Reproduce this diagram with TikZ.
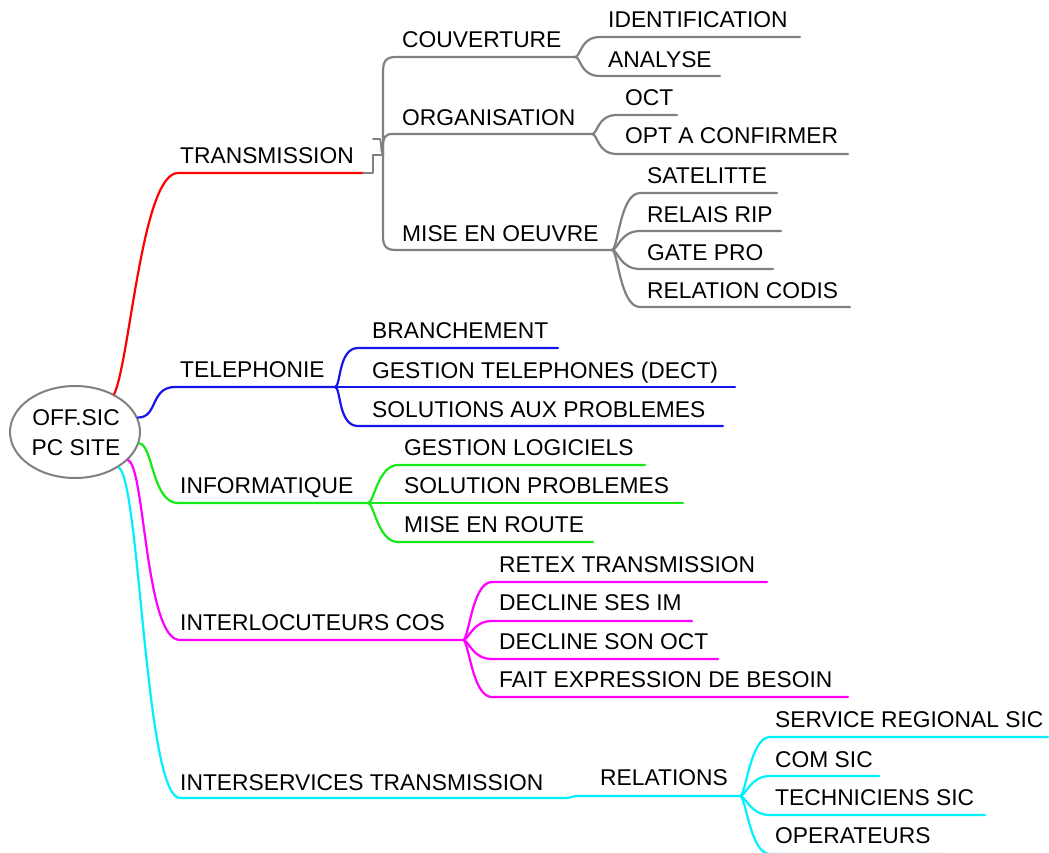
\documentclass[tikz,border=0pt]{standalone}
\usepackage{fontspec}
\setmainfont{Liberation Sans}
\usetikzlibrary{shapes.geometric}

\definecolor{mmred}{RGB}{255,0,0}
\definecolor{mmblue}{RGB}{20,20,235}
\definecolor{mmgreen}{RGB}{20,235,20}
\definecolor{mmmag}{RGB}{255,0,255}
\definecolor{mmcyan}{RGB}{0,240,255}
\definecolor{mmgrey}{RGB}{128,128,128}

% a topic label with its underline end points (name-s, name-e)
\newcommand\topic[7]{%
  \node[lbl] (#1) at (#2,#3) {#7};
  \coordinate (#1-s) at (#5,#4);
  \coordinate (#1-e) at (#6,#4);}

% a sub-branch: from the parent's branch point to the child's underline
\newcommand\kid[3]{%
  \draw[conn,#1] (#2-e) .. controls +(6,0) and +(-20,0) .. (#3-s) -- (#3-e);}

\begin{document}
\begin{tikzpicture}[x=1pt,y=-1pt,
  lbl/.style={anchor=base west,inner sep=0pt,font=\fontsize{22.8}{27}\selectfont},
  conn/.style={line width=2.2pt,line cap=round,line join=round},
  rootnode/.style={draw=mmgrey,line width=2pt,ellipse,minimum width=130pt,minimum height=92pt,inner sep=0pt}]
\clip (0,0) rectangle (1049,852);

% central topic
\node[rootnode] (root) at (75,432) {};
\node[lbl,anchor=base] (rootA) at (76,425) {OFF.SIC};
\node[lbl,anchor=base] (rootB) at (76,455) {PC SITE};

% TRANSMISSION branch
\topic{trans}{180}{163}{173}{178}{363}{TRANSMISSION}
\topic{couv}{402}{47}{57}{396}{575}{COUVERTURE}
\topic{org}{402}{125}{134}{392}{592}{ORGANISATION}
\topic{mise}{402}{241}{250}{396}{612}{MISE EN OEUVRE}
\topic{ident}{608}{27}{37}{600}{800}{IDENTIFICATION}
\topic{analyse}{608}{67}{76}{600}{720}{ANALYSE}
\topic{oct}{625}{105}{115}{617}{677}{OCT}
\topic{opt}{625}{143}{154}{617}{848}{OPT A CONFIRMER}
\topic{sat}{647}{183}{193}{640}{777}{SATELITTE}
\topic{relais}{647}{222}{231}{640}{781}{RELAIS RIP}
\topic{gate}{647}{260}{269}{640}{773}{GATE PRO}
\topic{codis}{647}{298}{307}{640}{850}{RELATION CODIS}

% TELEPHONIE branch
\topic{tel}{180}{377}{387}{175}{335}{TELEPHONIE}
\topic{branch}{372}{338}{348}{358}{558}{BRANCHEMENT}
\topic{gtel}{372}{378}{387}{358}{735}{GESTION TELEPHONES (DECT)}
\topic{solaux}{372}{417}{426}{358}{723}{SOLUTIONS AUX PROBLEMES}

% INFORMATIQUE branch
\topic{info}{180}{493}{503}{178}{368}{INFORMATIQUE}
\topic{glog}{404}{455}{465}{398}{645}{GESTION LOGICIELS}
\topic{solprob}{404}{493}{503}{398}{683}{SOLUTION PROBLEMES}
\topic{route}{404}{532}{542}{398}{593}{MISE EN ROUTE}

% INTERLOCUTEURS COS branch
\topic{interl}{180}{630}{640}{180}{463}{INTERLOCUTEURS COS}
\topic{retex}{499}{572}{582}{492}{767}{RETEX TRANSMISSION}
\topic{decses}{499}{610}{621}{492}{692}{DECLINE SES IM}
\topic{decson}{499}{649}{659}{492}{718}{DECLINE SON OCT}
\topic{fait}{499}{687}{697}{492}{848}{FAIT EXPRESSION DE BESOIN}

% INTERSERVICES TRANSMISSION branch
\topic{inters}{180}{790}{798}{180}{565}{INTERSERVICES TRANSMISSION}
\topic{rel}{600}{785}{796}{578}{740}{RELATIONS}
\topic{srs}{775}{727}{737}{770}{1048}{SERVICE REGIONAL SIC}
\topic{comsic}{775}{767}{776}{770}{879}{COM SIC}
\topic{tech}{775}{805}{815}{770}{985}{TECHNICIENS SIC}
\topic{oper}{775}{843}{854}{770}{940}{OPERATEURS}

% main branches from the central topic
\draw[conn,mmred] (root.44) .. controls (130,360) and (142,173) .. (trans-s) -- (trans-e);
\draw[conn,mmblue] (root.13) .. controls (158,418) and (150,387) .. (tel-s) -- (tel-e);
\draw[conn,mmgreen] (root.-10) .. controls (153,444) and (152,503) .. (info-s) -- (info-e);
\draw[conn,mmmag] (root.-28) .. controls (145,465) and (145,640) .. (interl-s) -- (interl-e);
\draw[conn,mmcyan] (root.-39) .. controls (140,480) and (145,798) .. (inters-s) -- (inters-e);

% TRANSMISSION: brace joint and grey trunk
\coordinate (joint) at (383,155);
\draw[conn,mmgrey,line width=1.7pt] (trans-e) -- (373,173) -- (373,155) -- (joint);
\draw[conn,mmgrey,line width=1.7pt] (373,139) -- (380,139) .. controls (382,143) and (380,151) .. (joint);
\draw[conn,mmgrey] (joint) -- (383,72) .. controls (383,61) and (386,57) .. (couv-s) -- (couv-e);
\draw[conn,mmgrey] (joint) -- (383,146) .. controls (383,138) and (385,134) .. (org-s) -- (org-e);
\draw[conn,mmgrey] (joint) -- (383,236) .. controls (383,246) and (386,250) .. (mise-s) -- (mise-e);
\kid{mmgrey}{couv}{ident}
\kid{mmgrey}{couv}{analyse}
\kid{mmgrey}{org}{oct}
\kid{mmgrey}{org}{opt}
\kid{mmgrey}{mise}{sat}
\kid{mmgrey}{mise}{relais}
\kid{mmgrey}{mise}{gate}
\kid{mmgrey}{mise}{codis}

% TELEPHONIE children
\kid{mmblue}{tel}{branch}
\draw[conn,mmblue] (tel-e) -- (gtel-s) -- (gtel-e);
\kid{mmblue}{tel}{solaux}

% INFORMATIQUE children
\kid{mmgreen}{info}{glog}
\draw[conn,mmgreen] (info-e) -- (solprob-s) -- (solprob-e);
\kid{mmgreen}{info}{route}

% INTERLOCUTEURS COS children
\kid{mmmag}{interl}{retex}
\kid{mmmag}{interl}{decses}
\kid{mmmag}{interl}{decson}
\kid{mmmag}{interl}{fait}

% INTERSERVICES TRANSMISSION children
\draw[conn,mmcyan] (inters-e) .. controls +(6,0) and +(-6,0) .. (rel-s) -- (rel-e);
\kid{mmcyan}{rel}{srs}
\kid{mmcyan}{rel}{comsic}
\kid{mmcyan}{rel}{tech}
\kid{mmcyan}{rel}{oper}
\end{tikzpicture}
\end{document}
